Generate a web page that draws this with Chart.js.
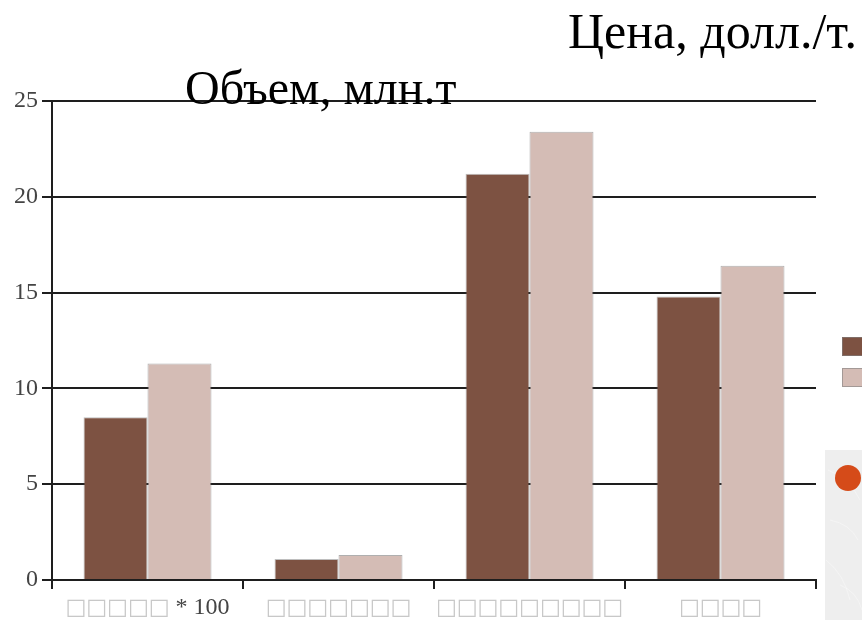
<!DOCTYPE html>
<html>
<head>
<meta charset="utf-8">
<script src="https://cdn.jsdelivr.net/npm/chart.js@4/dist/chart.umd.min.js"></script>
<style>
  html, body { margin: 0; padding: 0; background: #fff; }
  #wrap { position: relative; width: 862px; height: 620px; }
</style>
</head>
<body>
<div id="wrap"><canvas id="c" width="862" height="620"></canvas></div>
<script>
// Category labels (glyphs are missing in the source font, shown as boxes)
const categories = ['\u25A1\u25A1\u25A1\u25A1\u25A1 * 100', '\u25A1\u25A1\u25A1\u25A1\u25A1\u25A1\u25A1', '\u25A1\u25A1\u25A1\u25A1\u25A1\u25A1\u25A1\u25A1\u25A1', '\u25A1\u25A1\u25A1\u25A1'];
const seriesA = [8.5, 1.1, 21.2, 14.8];
const seriesB = [11.3, 1.3, 23.4, 16.4];
const yTicks = [0, 5, 10, 15, 20, 25];
const titleVolume = 'Объем, млн.т';
const titlePrice = 'Цена, долл./т.';

const colorA = '#7d5242';
const colorB = '#d4bcb5';
const ink = '#1e1e1e';

const BOX = '\u25A1';
const boxFont = '22px "DejaVu Sans", sans-serif';
const textFont = '24px "Liberation Serif", serif';

// Titles, category labels, legend swatches and side panel
const decor = {
  id: 'decor',
  beforeDraw(chart) {
    const ctx = chart.ctx;
    ctx.save();
    // side panel with a faint grey texture
    ctx.fillStyle = '#eeeeee';
    ctx.fillRect(825, 450, 37, 170);
    ctx.strokeStyle = 'rgba(255,255,255,0.35)';
    ctx.lineWidth = 1;
    [[828, 470, 860, 500], [830, 520, 858, 540], [826, 560, 850, 600], [840, 585, 862, 610]].forEach(s => {
      ctx.beginPath(); ctx.moveTo(s[0], s[1]); ctx.quadraticCurveTo((s[0]+s[2])/2 + 6, (s[1]+s[3])/2 - 6, s[2], s[3]); ctx.stroke();
    });
    ctx.restore();
  },
  afterDraw(chart) {
    const ctx = chart.ctx;
    const xs = chart.scales.x;
    ctx.save();
    // category labels: boxes light grey, the rest darker
    ctx.textBaseline = 'middle';
    const widthOf = ch => { ctx.font = ch === BOX ? boxFont : textFont; return ctx.measureText(ch).width; };
    categories.forEach((lab, i) => {
      const cx = xs.getPixelForValue(i);
      let w = 0;
      for (const ch of lab) w += widthOf(ch);
      let x = cx - w / 2;
      for (const ch of lab) {
        const cw = widthOf(ch);
        ctx.fillStyle = ch === BOX ? '#c8c8c8' : '#444';
        ctx.fillText(ch, x, 608);
        x += cw;
      }
    });
    // titles
    ctx.fillStyle = '#000';
    ctx.textBaseline = 'alphabetic';
    ctx.textAlign = 'left';
    ctx.font = '50px "Liberation Serif", serif';
    ctx.fillText(titlePrice, 568, 48);
    ctx.font = '48px "Liberation Serif", serif';
    ctx.fillText(titleVolume, 185, 104);
    // legend swatches
    [[colorA, 337], [colorB, 368]].forEach(([c, y]) => {
      ctx.fillStyle = c;
      ctx.fillRect(842, y, 20, 19);
      ctx.strokeStyle = 'rgba(130,130,130,0.6)';
      ctx.lineWidth = 1;
      ctx.strokeRect(842.5, y + 0.5, 20, 18);
    });
    // marker dot
    ctx.fillStyle = '#d54b19';
    ctx.beginPath();
    ctx.arc(848, 478, 13, 0, Math.PI * 2);
    ctx.fill();
    ctx.restore();
  }
};

new Chart(document.getElementById('c'), {
  type: 'bar',
  data: {
    labels: categories,
    datasets: [
      { data: seriesA, backgroundColor: colorA, borderColor: 'rgba(110,110,110,0.45)', borderWidth: 1 },
      { data: seriesB, backgroundColor: colorB, borderColor: 'rgba(110,110,110,0.55)', borderWidth: 1 }
    ]
  },
  options: {
    responsive: false,
    animation: false,
    events: [],
    layout: { padding: { top: 101, right: 46, left: 0, bottom: 0 } },
    plugins: { legend: { display: false }, tooltip: { enabled: false }, title: { display: false } },
    datasets: { bar: { barPercentage: 1, categoryPercentage: 0.67 } },
    scales: {
      x: {
        offset: true,
        grid: { offset: true, drawOnChartArea: false, color: ink, lineWidth: 2, tickLength: 9 },
        border: { color: ink, width: 2 },
        ticks: { display: false },
        afterFit(s) { s.height = 40; }
      },
      y: {
        min: 0, max: 25,
        afterBuildTicks(s) { s.ticks = yTicks.map(v => ({ value: v })); },
        grid: { color: ink, lineWidth: 2, tickLength: 10, drawTicks: true },
        border: { color: ink, width: 2 },
        ticks: { color: '#444', font: { family: '"Liberation Serif", serif', size: 24 }, padding: 4 },
        afterFit(s) { s.width = 52; }
      }
    }
  },
  plugins: [decor]
});
</script>
</body>
</html>
